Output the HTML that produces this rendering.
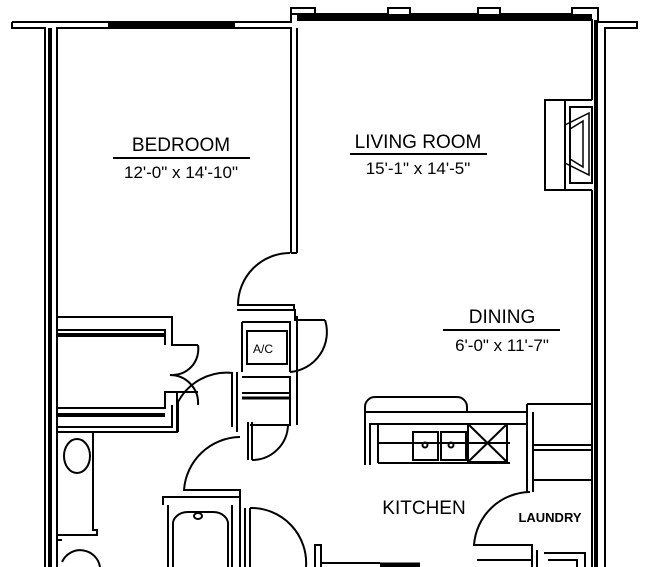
<!DOCTYPE html>
<html><head><style>
html,body{margin:0;padding:0;background:#fff;width:650px;height:567px;overflow:hidden}
text{font-family:"Liberation Sans",sans-serif;fill:#000}
</style></head><body>
<svg width="650" height="567" viewBox="0 0 650 567" xmlns="http://www.w3.org/2000/svg">
<g fill="none" stroke="#000" stroke-width="2">
<path d="M12,22 H291 V8 H315 V14 M12,22 V28 H45 V567 M57,567 V28 H291 V253"/>
<line x1="50" y1="28" x2="50" y2="567" stroke-width="4"/>
<line x1="108" y1="24.5" x2="235" y2="24.5" stroke-width="5"/>
<path d="M297,28 V253" />
<path d="M291,253 H297"/>
<path d="M291,14 H388 V8 H410 V14 H478 V8 H500 V14 H572 V8 H598 V22 H637 V28 H605 V567"/>
<line x1="297" y1="16.5" x2="592" y2="16.5" stroke-width="5"/>
<path d="M297,20 H592 V100 M592,190 V567"/>
<line x1="596" y1="20" x2="596" y2="567" stroke-width="4"/>
<path d="M592,100 H545 V190 H592 M565,100 V190 M570,107 H592 V183 H570 Z"/>
<path d="M566,113 L590,125 V163 L566,175 Z M572,121 L585,129 V159 L572,167 Z" stroke-width="1.5" transform="translate(1155,0) scale(-1,1)"/>
<path d="M290,253 A52,52 0 0 0 238,305 H294 V310"/>
<path d="M57,317 H172 V345 H198 M57,330 H165 V345 M57,408 H165 V392 H198 M57,427 H172 V405 M57,432 H177 V392"/>
<line x1="57" y1="335" x2="165" y2="335" stroke-width="4"/>
<line x1="57" y1="415" x2="165" y2="415" stroke-width="4"/>
<path d="M198,345 A26,26 0 0 1 170,375 M198,405 A28,28 0 0 0 170,375" />
<path d="M57,432 V535 H97 V530 H93 V432"/>
<ellipse cx="77" cy="456" rx="13" ry="17"/>
<path d="M57,540 H62 M62,562 A20,20 0 0 1 100,567"/>
<path d="M233,373 A55,55 0 0 0 178,402 V432 M232,373 V427 M237,373 V432"/>
<path d="M237,310 H295 V320 H325 M297,316 V425 M242,322 V372 M242,322 H290 V372 M237,372 V432"/>
<rect x="247" y="331" width="40" height="33"/>
<text x="253" y="353" font-size="12" stroke="none">A/C</text>
<path d="M325,320 A40,40 0 0 1 290,372 M242,377 H290 V425 H250 M242,393 H290"/>
<line x1="242" y1="398" x2="290" y2="398" stroke-width="3"/>
<path d="M248,422 V460 M252,422 V460 M252,460 A36,36 0 0 0 288,425"/>
<path d="M240,437 A57,57 0 0 0 184,490 H240 V497 H163 V505 M168,505 V567 M232,505 V567 M240,497 V567 M173,567 V525 A15,12 0 0 1 188,512 H213 A15,12 0 0 1 228,525 V567"/>
<ellipse cx="198" cy="516" rx="4" ry="3"/>
<path d="M245,508 V567 M250,508 V567 M250,508 A55,55 0 0 1 306,567"/>
<path d="M315,567 V545 H321 V567 M321,563 H380"/>
<path d="M365,465 V407 A10,10 0 0 1 375,397 H457 A10,10 0 0 1 467,407 V412 M365,412 H527 V465 M370,465 V424 H527 M378,424 V463 M378,463 H510 M378,443 H510"/>
<rect x="413" y="432" width="25" height="28"/>
<rect x="441" y="432" width="25" height="28"/>
<circle cx="425" cy="445" r="2.5"/><circle cx="451" cy="445" r="2.5"/>
<rect x="468" y="424" width="39" height="38"/>
<path d="M468,424 L507,462 M507,424 L468,462"/>
<path d="M527,404 H592 M527,404 V480 M533,445 H592 M533,450 H592 M533,480 H592 M527,480 V492 M533,412 V492"/>
<path d="M530,492 A57,57 0 0 0 474,545 H532 V567 M537,550 V567 M544,553 H585 V567 M548,560 H577 V567 M477,560 H532"/>
<line x1="380" y1="565" x2="420" y2="565" stroke-width="5"/>
</g>
<g font-size="19" text-anchor="middle">
<text x="181" y="151">BEDROOM</text>
<line x1="113" y1="158" x2="250" y2="158" stroke="#000" stroke-width="2"/>
<text x="181" y="178" font-size="17">12'-0" x 14'-10"</text>
<text x="418" y="148">LIVING ROOM</text>
<line x1="350" y1="154" x2="487" y2="154" stroke="#000" stroke-width="2"/>
<text x="418" y="174" font-size="17">15'-1" x 14'-5"</text>
<text x="502" y="323">DINING</text>
<line x1="443" y1="330" x2="560" y2="330" stroke="#000" stroke-width="2"/>
<text x="502" y="351" font-size="17">6'-0" x 11'-7"</text>
<text x="424" y="514" font-size="19">KITCHEN</text>
<text x="550" y="522" font-size="13" font-weight="bold">LAUNDRY</text>
</g>
</svg>
</body></html>
